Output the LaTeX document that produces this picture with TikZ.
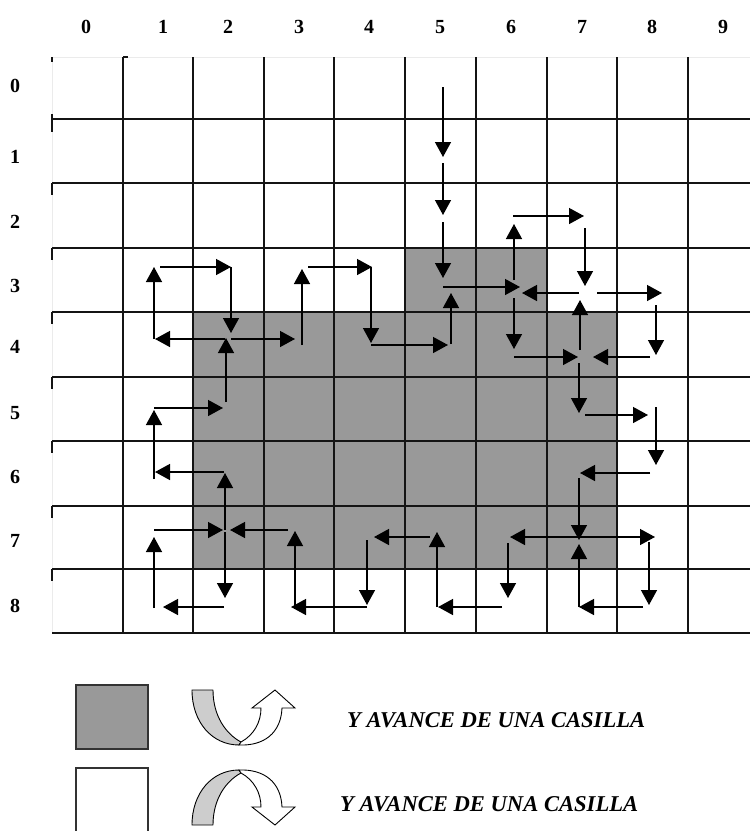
\documentclass[tikz,border=0pt]{standalone}
\usepackage{fontspec}
\setmainfont{Liberation Serif}
\usetikzlibrary{arrows.meta}
\definecolor{cellgray}{RGB}{153,153,153}
\definecolor{bandgray}{RGB}{205,205,205}
\definecolor{gridcol}{RGB}{20,20,20}
\newcommand{\legendicon}{%
  \filldraw[fill=bandgray, draw=black, line width=0.9pt, line join=round]
    (0,0) -- (21,0) .. controls (21,26) and (34,44) .. (49,52) -- (47,55)
    .. controls (20,55) and (0,32) .. cycle;
  \filldraw[fill=white, draw=black, line width=0.9pt, line join=miter]
    (49,52) .. controls (62,45) and (69,32) .. (69,18) -- (60,18) -- (83,0)
    -- (103,18) -- (90,18) .. controls (89,43) and (72,56) .. (47,55) -- cycle;
}
\begin{document}
\begin{tikzpicture}[x=1pt,y=-1pt,
  gridline/.style={line width=1.7pt, draw=gridcol},
  mv/.style={line width=1.4pt, draw=black, -{Triangle[width=16pt,length=15pt]}},
  lab/.style={font=\fontsize{20}{20}\selectfont\bfseries, inner sep=0pt, anchor=base},
  legtext/.style={font=\fontsize{22.6}{22.6}\selectfont\bfseries\itshape, inner sep=0pt, anchor=base west},
  keybox/.style={draw=black!80, line width=1.3pt, minimum width=72pt, minimum height=64pt, inner sep=0pt}
]
\useasboundingbox (0,0) rectangle (750,831);
\clip (0,0) rectangle (750,831);

% shaded cells
\fill[cellgray] (193,312) -- (405,312) -- (405,248) -- (547,248) -- (547,312)
  -- (617,312) -- (617,569) -- (193,569) -- cycle;

% faint outer border
\draw[black!8, line width=0.8pt] (52,633) -- (52,57) -- (750,57);

% grid
\foreach \x in {123,193,264,334,405,476,547,617,688}
  \draw[gridline] (\x,57) -- (\x,633);
\foreach \y in {119,183,248,312,377,441,506,569,633}
  \draw[gridline] (52,\y) -- (750,\y);
\draw[gridline] (123,57) -- (128,57);
\draw[gridline] (52,57) -- (52,62);
\draw[gridline] (52,114) -- (52,132);
\foreach \y in {183,248,312,377,441,506,569}
  \draw[gridline] (52,\y) -- (52,\y+12);

% labels
\foreach \i/\x in {0/86,1/163,2/228,3/299,4/369,5/440,6/511,7/582,8/652,9/723}
  \node[lab] (c\i) at (\x,33) {\i};
\foreach \i/\y in {0/92,1/163,2/228,3/292,4/353,5/419,6/483,7/547,8/612}
  \node[lab] (r\i) at (15,\y) {\i};

% ant path
\foreach \i/\ax/\ay/\bx/\by in {
  1/443/87/443/157, 2/443/163/443/215, 3/443/222/443/278, 4/443/287/520/287,
  5/514/280/514/224, 6/513/216/584/216, 7/585/228/585/286, 8/579/293/522/293,
  9/514/298/514/349, 10/514/357/578/357, 11/580/350/580/300, 12/597/293/662/293,
  13/656/305/656/355, 14/650/357/593/357, 15/579/363/579/413, 16/585/415/648/415,
  17/656/407/656/465, 18/650/473/580/473, 19/579/478/579/540, 20/579/537/655/537,
  21/649/542/649/605, 22/643/607/579/607, 23/579/607/579/544, 24/579/537/510/537,
  25/508/543/508/598, 26/502/607/438/607, 27/437/607/437/532, 28/430/537/374/537,
  29/367/540/367/605, 30/367/607/291/607, 31/295/607/295/531, 32/288/530/230/530,
  33/225/532/225/598, 34/224/607/163/607, 35/154/608/154/537, 36/154/530/223/530,
  37/225/530/225/473, 38/224/472/155/472, 39/154/479/154/410, 40/154/408/223/408,
  41/226/402/226/338, 42/225/339/155/339, 43/154/339/154/267, 44/160/267/231/267,
  45/231/267/231/333, 46/231/339/295/339, 47/302/345/302/269, 48/308/267/372/267,
  49/371/267/371/343, 50/371/345/448/345, 51/451/344/451/293}
{
  \coordinate (s\i) at (\ax,\ay);
  \coordinate (t\i) at (\bx,\by);
  \draw[mv] (s\i) -- (t\i);
}

% legend
\node[keybox, fill=cellgray] (keygray) at (112,717) {};
\node[keybox, fill=white, minimum height=66pt] (keywhite) at (112,801) {};
\begin{scope}[shift={(192,690)}]
  \legendicon
\end{scope}
\begin{scope}[shift={(192,825)}, yscale=-1]
  \legendicon
\end{scope}
\node[legtext] (txtgray) at (347,727) {Y AVANCE DE UNA CASILLA};
\node[legtext] (txtwhite) at (340,811) {Y AVANCE DE UNA CASILLA};
\end{tikzpicture}
\end{document}
